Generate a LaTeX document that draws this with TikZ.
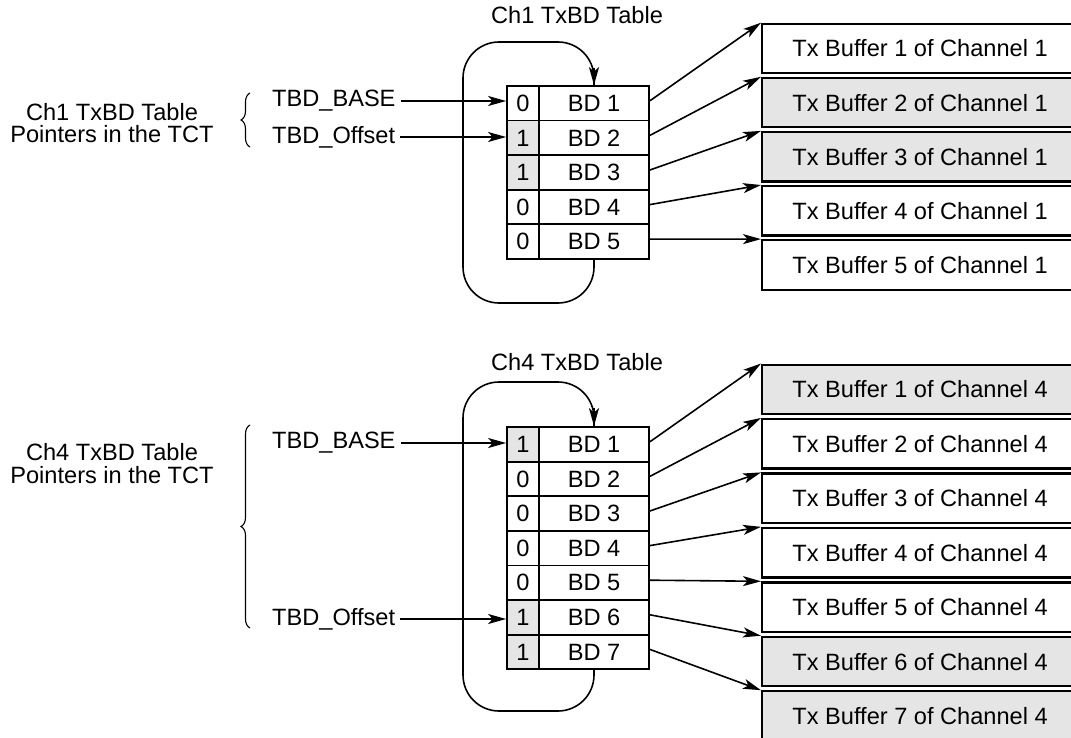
\documentclass[tikz,border=0pt]{standalone}
\usepackage{fontspec}
\setmainfont{Liberation Sans}
\usetikzlibrary{arrows.meta,decorations.pathreplacing,calc}
\definecolor{shade}{RGB}{229,229,229}
\tikzset{
  txt/.style={font=\fontsize{23.6}{22.3}\selectfont},
  flagcell/.style={txt, draw, line width=1.8pt, minimum width=32pt, minimum height=34.6pt, inner sep=0pt},
  bdcell/.style={txt, draw, line width=1.8pt, minimum width=110pt, minimum height=34.6pt, inner sep=0pt},
  on/.style={fill=shade},
  off/.style={},
  bufbox/.style={txt, draw, line width=2.2pt, minimum width=316pt, minimum height=49.5pt, anchor=north west, inner sep=0pt},
  ptr/.style={line width=1.6pt, -{Stealth[length=18pt,width=10pt,inset=4.5pt]}},
  loopline/.style={line width=1.6pt, rounded corners=36pt},
  bracedeco/.style={line width=1.1pt, decorate, decoration={brace, amplitude=9pt}},
  ptrlabel/.style={txt, anchor=west, inner sep=2pt},
}
\begin{document}
\begin{tikzpicture}[x=1pt,y=-1pt]
\useasboundingbox (0,0) rectangle (1071,738);
\clip (0,0) rectangle (1071,738);

% ---------- Channel 1 ----------
\node[txt] (t1) at (577,15) {Ch1 TxBD Table};
\foreach \i/\f/\s in {1/0/off,2/1/on,3/1/on,4/0/off,5/0/off}{
  \node[flagcell,\s] (a\i f) at (523,{103.3+34.6*(\i-1)}) {\f};
  \node[bdcell] (a\i b) at (594,{103.3+34.6*(\i-1)}) {BD \i};
}
\foreach \i/\s in {1/off,2/on,3/on,4/off,5/off}{
  \node[bufbox,\s] (b\i) at (761,{22.7+54.1*(\i-1)}) {Tx Buffer \i{} of Channel 1};
  \draw[ptr] ([yshift=2.5pt]a\i b.east) -- (b\i.north west);
}
\coordinate (c1a) at (594,303);
\coordinate (c1b) at (463,303);
\coordinate (c1c) at (463,42);
\coordinate (c1d) at (594,42);
\coordinate (c1e) at (594,68);
\draw[loopline] (a5b.south) -- (c1a) -- (c1b) -- (c1c) -- (c1d) -- (a1b.north);
\draw[ptr] (c1e) -- (a1b.north);

\node[txt, align=center] (l1) at (112,123) {Ch1 TxBD Table\\Pointers in the TCT};
\coordinate (br1a) at (250,147);
\coordinate (br1b) at (250,93);
\draw[bracedeco] (br1a) -- (br1b);
\node[ptrlabel] (p1a) at (270,101) {TBD\_BASE};
\node[ptrlabel] (p1b) at (270,137) {TBD\_Offset};
\draw[ptr] ([xshift=3pt]p1a.east) -- (p1a.east -| a1f.west);
\draw[ptr] ([xshift=3pt]p1b.east) -- (p1b.east -| a2f.west);

% ---------- Channel 4 ----------
\node[txt] (t4) at (577,361.7) {Ch4 TxBD Table};
\foreach \i/\f/\s in {1/1/on,2/0/off,3/0/off,4/0/off,5/0/off,6/1/on,7/1/on}{
  \node[flagcell,\s] (h\i f) at (523,{444.3+34.6*(\i-1)}) {\f};
  \node[bdcell] (h\i b) at (594,{444.3+34.6*(\i-1)}) {BD \i};
}
\foreach \i/\s in {1/on,2/off,3/off,4/off,5/off,6/on,7/on}{
  \node[bufbox,\s] (g\i) at (761,{363.5+54.45*(\i-1)}) {Tx Buffer \i{} of Channel 4};
  \draw[ptr] ([yshift=2.5pt]h\i b.east) -- (g\i.north west);
}
\coordinate (c4a) at (594,711);
\coordinate (c4b) at (463,711);
\coordinate (c4c) at (463,382);
\coordinate (c4d) at (594,382);
\coordinate (c4e) at (594,408);
\draw[loopline] (h7b.south) -- (c4a) -- (c4b) -- (c4c) -- (c4d) -- (h1b.north);
\draw[ptr] (c4e) -- (h1b.north);

\node[txt, align=center] (l4) at (112,463.5) {Ch4 TxBD Table\\Pointers in the TCT};
\coordinate (br4a) at (250,628);
\coordinate (br4b) at (250,425);
\draw[bracedeco] (br4a) -- (br4b);
\node[ptrlabel] (p4a) at (270,443) {TBD\_BASE};
\node[ptrlabel] (p4b) at (270,619) {TBD\_Offset};
\draw[ptr] ([xshift=3pt]p4a.east) -- (p4a.east -| h1f.west);
\draw[ptr] ([xshift=3pt]p4b.east) -- (p4b.east -| h6f.west);
\end{tikzpicture}
\end{document}
